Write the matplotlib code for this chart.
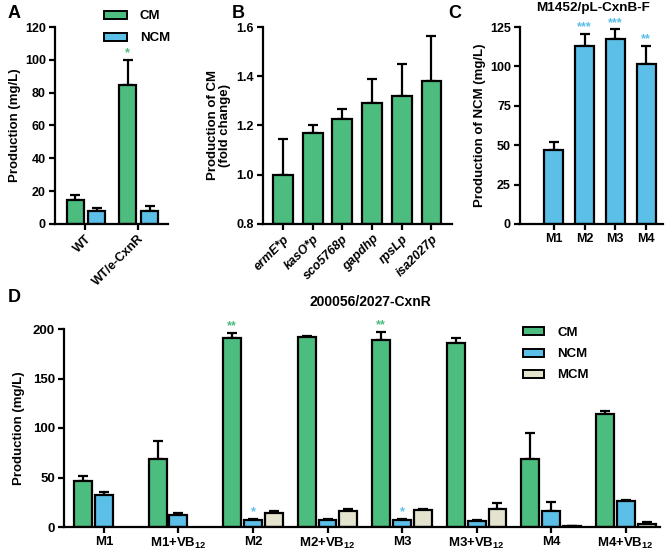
import matplotlib
matplotlib.use("Agg")
import matplotlib.pyplot as plt
import numpy as np
from matplotlib.patches import Patch

plt.rcParams['font.family'] = ['Liberation Sans', 'DejaVu Sans']
plt.rcParams['font.weight'] = 'bold'
plt.rcParams['mathtext.default'] = 'regular'

GREEN = '#4CBD7E'
BLUE = '#5BBFE8'
BEIGE = '#E3E3CE'

# Panel A
a_cats = ['WT', 'WT/e-CxnR']
a_cm = [14.6, 84.5]
a_cm_err = [3.0, 15.6]
a_ncm = [8.1, 8.1]
a_ncm_err = [1.4, 3.0]

# Panel B
b_cats = ['ermE*p', 'kasO*p', 'sco5768p', 'gapdhp', 'rpsLp', 'isa2027p']
b_vals = [1.00, 1.17, 1.225, 1.29, 1.32, 1.38]
b_err = [0.145, 0.03, 0.04, 0.10, 0.13, 0.185]

# Panel C
c_cats = ['M1', 'M2', 'M3', 'M4']
c_vals = [47.0, 113.0, 117.2, 101.8]
c_err = [4.8, 7.8, 6.3, 11.2]
c_stars = ['', '***', '***', '**']

# Panel D
d_cats = ['M1', 'M1+VB$_{12}$', 'M2', 'M2+VB$_{12}$', 'M3', 'M3+VB$_{12}$', 'M4', 'M4+VB$_{12}$']
d_cm = [46.0, 68.9, 190.9, 191.6, 188.9, 185.8, 68.9, 113.9]
d_cm_err = [5.4, 17.9, 4.7, 1.6, 8.4, 4.7, 26.4, 3.7]
d_ncm = [32.8, 11.8, 6.8, 6.8, 6.8, 5.7, 15.9, 26.0]
d_ncm_err = [3.0, 2.4, 1.3, 1.0, 1.3, 1.1, 9.8, 1.4]
d_mcm = [0.0, 0.0, 14.5, 16.6, 17.6, 18.2, 0.7, 3.0]
d_mcm_err = [0.0, 0.0, 1.7, 1.6, 1.0, 5.8, 0.1, 2.4]

W, H = 667, 553
fig = plt.figure(figsize=(W / 100, H / 100), dpi=100)


def ax_px(l, r, top, bot):
    return fig.add_axes([l / W, 1 - bot / H, (r - l) / W, (bot - top) / H])


LW = 1.6
FS = 9


def style(ax, fs=FS):
    for s in ['top', 'right']:
        ax.spines[s].set_visible(False)
    for s in ['left', 'bottom']:
        ax.spines[s].set_linewidth(LW)
    ax.tick_params(width=LW, length=4.5, labelsize=fs, direction='out', pad=2)
    for lab in ax.get_yticklabels():
        lab.set_fontweight('bold')


def bars(ax, x, v, e, w, color):
    ax.bar(x, v, w, color=color, edgecolor='black', linewidth=LW, zorder=2)
    ax.errorbar(x, v, yerr=[np.zeros(len(v)), e], fmt='none', ecolor='black',
                elinewidth=LW, capsize=3.5, capthick=LW, zorder=1)

# ---------- A ----------
axA = ax_px(55, 168, 27, 224)
xa = np.arange(len(a_cats))
bars(axA, xa - 0.19, a_cm, a_cm_err, 0.32, GREEN)
bars(axA, xa + 0.22, a_ncm, a_ncm_err, 0.32, BLUE)
axA.set_xlim(-0.57, 1.57)
axA.set_ylim(0, 120)
axA.set_yticks(range(0, 121, 20))
axA.set_xticks(xa)
axA.set_xticklabels(a_cats, rotation=45, ha='right', rotation_mode='anchor', fontweight='bold', fontsize=FS)
style(axA)
axA.set_ylabel('Production (mg/L)', fontsize=9.5, fontweight='bold', labelpad=3)
axA.text(1 - 0.19, 104, '*', color=GREEN, ha='center', va='center', fontsize=9)
axA.legend(handles=[Patch(facecolor=GREEN, edgecolor='black', linewidth=1.4, label='CM'),
                    Patch(facecolor=BLUE, edgecolor='black', linewidth=1.4, label='NCM')],
           loc='upper left', bbox_to_anchor=(0.33, 1.145), frameon=False,
           handlelength=1.7, handleheight=0.55, labelspacing=0.75, handletextpad=1.0,
           prop={'weight': 'bold', 'size': 9.5})

# ---------- B ----------
axB = ax_px(263, 452, 27, 224)
xb = np.arange(len(b_cats))
axB.bar(xb, np.array(b_vals) - 0.8, 0.67, bottom=0.8, color=GREEN, edgecolor='black', linewidth=LW, zorder=2)
axB.errorbar(xb, b_vals, yerr=[np.zeros(len(b_vals)), b_err], fmt='none', ecolor='black',
             elinewidth=LW, capsize=3.5, capthick=LW, zorder=1)
axB.set_xlim(-0.67, 5.69)
axB.set_ylim(0.8, 1.6)
axB.set_yticks([0.8, 1.0, 1.2, 1.4, 1.6])
axB.set_yticklabels(['0.8', '1.0', '1.2', '1.4', '1.6'])
axB.set_xticks(xb)
axB.set_xticklabels(b_cats, rotation=45, ha='right', rotation_mode='anchor', fontweight='bold',
                    fontstyle='italic', fontsize=FS)
style(axB)
axB.set_ylabel('Production of CM\n(fold change)', fontsize=9.5, fontweight='bold', labelpad=4,
               linespacing=1.0)

# ---------- C ----------
axC = ax_px(520, 663, 27, 224)
xc = np.arange(len(c_cats))
bars(axC, xc, c_vals, c_err, 0.62, BLUE)
axC.set_xlim(-1.1, 3.55)
axC.set_ylim(0, 125)
axC.set_yticks(range(0, 126, 25))
axC.set_xticks(xc)
axC.set_xticklabels(c_cats, fontweight='bold', fontsize=FS)
style(axC)
axC.set_ylabel('Production of NCM (mg/L)', fontsize=9.5, fontweight='bold', labelpad=3)
fig.text(593 / W, 1 - 8 / H, 'M1452/pL-CxnB-F', fontsize=9.7,
         fontweight='bold', ha='center', va='center')
for i, s in enumerate(c_stars):
    if s:
        axC.text(i, c_vals[i] + c_err[i] + 4, s, color=BLUE, ha='center', va='center',
                 fontsize=9, clip_on=False)

# ---------- D ----------
axD = ax_px(64, 660, 329, 527)
xd = np.arange(len(d_cats))
off = 0.28
wd = 0.24
bars(axD, xd - off, d_cm, d_cm_err, wd, GREEN)
bars(axD, xd, d_ncm, d_ncm_err, wd, BLUE)
mx = [x + off for x, v in zip(xd, d_mcm) if v > 0]
mv = [v for v in d_mcm if v > 0]
me = [e for v, e in zip(d_mcm, d_mcm_err) if v > 0]
bars(axD, np.array(mx), mv, me, wd, BEIGE)
axD.set_xlim(-0.535, 7.46)
axD.set_ylim(0, 200)
axD.set_yticks([0, 50, 100, 150, 200])
axD.set_xticks(xd)
axD.set_xticklabels(d_cats, fontweight='bold', fontsize=9.5)
style(axD, fs=9.5)
axD.set_ylabel('Production (mg/L)', fontsize=9.5, fontweight='bold', labelpad=6)
fig.text(370 / W, 1 - 302 / H, '200056/2027-CxnR', fontsize=10, fontweight='bold',
         ha='center', va='center')
for i in [2, 4]:
    axD.text(i - off, d_cm[i] + d_cm_err[i] + 7, '**', color=GREEN, ha='center', va='center', fontsize=9)
    axD.text(i, d_ncm[i] + d_ncm_err[i] + 7, '*', color=BLUE, ha='center', va='center', fontsize=9)
axD.legend(handles=[Patch(facecolor=GREEN, edgecolor='black', linewidth=1.4, label='CM'),
                    Patch(facecolor=BLUE, edgecolor='black', linewidth=1.4, label='NCM'),
                    Patch(facecolor=BEIGE, edgecolor='black', linewidth=1.4, label='MCM')],
           loc='upper left', bbox_to_anchor=(0.75, 1.07), frameon=False,
           handlelength=1.6, handleheight=0.55, labelspacing=0.7, handletextpad=1.0,
           prop={'weight': 'bold', 'size': 9.5})

# panel letters
for lab, x, y in [('A', 8, 13), ('B', 232, 13), ('C', 448, 13), ('D', 8, 298)]:
    fig.text(x / W, 1 - y / H, lab, fontsize=13, fontweight='bold', va='center', ha='left')

fig.savefig('out.png', dpi=100)
